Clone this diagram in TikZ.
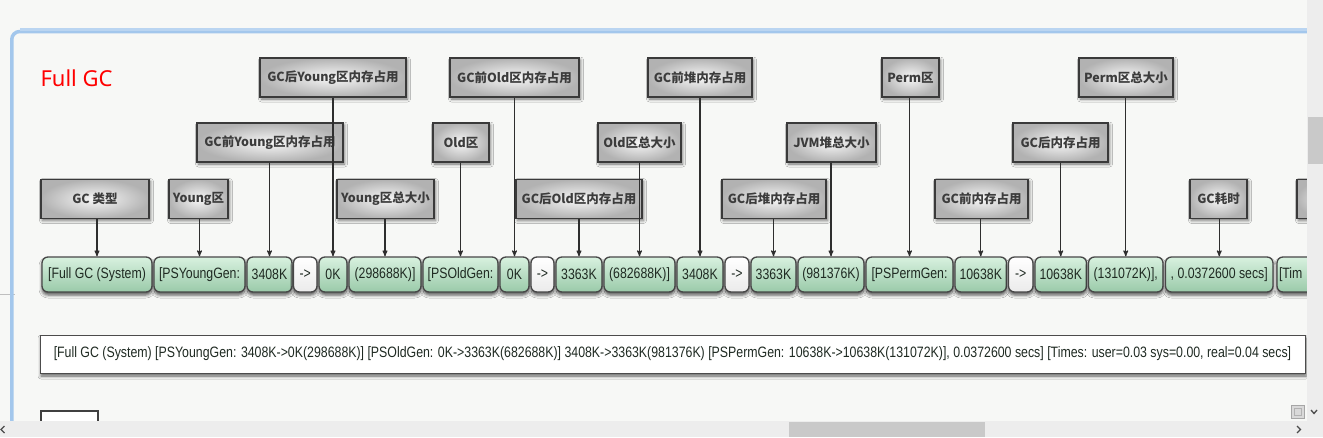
\documentclass[tikz,border=0pt]{standalone}
\usepackage{fontspec}
\setmainfont{Liberation Sans}
\newfontfamily\lblfont{Noto Sans CJK SC}
\newfontfamily\cellfont{Liberation Sans}[FakeStretch=0.82]
\newfontfamily\titlefont{Noto Sans}
\usepackage{tikz}
\usetikzlibrary{arrows,shadows,shadows.blur}

\definecolor{pagebg}{HTML}{F7F8F6}
\definecolor{frameblue}{HTML}{A3C7EC}
\definecolor{lblline}{HTML}{3A3A3A}
\definecolor{lbltext}{HTML}{3C3C3C}
\definecolor{cellhi}{HTML}{D8F1DF}
\definecolor{cellmid}{HTML}{B9DFC5}
\definecolor{celllo}{HTML}{9ACAA9}
\definecolor{cellline}{HTML}{474747}
\definecolor{celltext}{HTML}{1F2A22}
\definecolor{connline}{HTML}{2E2E2E}
\definecolor{barbg}{HTML}{EDEDED}
\definecolor{barthumb}{HTML}{C9C9C9}

\begin{document}
\begin{tikzpicture}[x=1pt,y=-1pt,
      lbl/.style={draw=lblline, line width=1.8pt, inner color=black!3, outer color=black!30,
        minimum height=39pt, inner sep=0pt, text=lbltext,
        font={\lblfont\bfseries\fontsize{12.5}{14}\selectfont},
        blur shadow={shadow xshift=1.5pt, shadow yshift=-2pt, shadow blur radius=3pt, shadow opacity=55}},
      cell/.style={draw=cellline, line width=1.3pt, rounded corners=6pt,
        top color=cellhi, middle color=cellmid, bottom color=celllo,
        minimum height=35pt, inner sep=0pt, text=celltext,
        font={\cellfont\fontsize{15}{17}\selectfont},
        blur shadow={shadow xshift=0pt, shadow yshift=-3pt, shadow blur radius=3pt, shadow opacity=65}},
      arrcell/.style={cell, top color=white, middle color=white, bottom color=black!8},
      conn/.style={->, >=stealth', line width=1.1pt, draw=connline},
      logbox/.style={draw=black!70, line width=0.9pt, fill=white, inner sep=0pt,
        font={\cellfont\fontsize{15.05}{17}\selectfont}, text=celltext,
        blur shadow={shadow xshift=1pt, shadow yshift=-3pt, shadow blur radius=3pt, shadow opacity=60}}]

    \useasboundingbox (0,0) rectangle (1323,437);
    \fill[pagebg] (0,0) rectangle (1323,437);

    %draw page frame
    \draw[black!25, line width=1pt] (0,294) -- (15,294);
    \draw[frameblue, line width=3.5pt, rounded corners=8pt] (11.75,430) |- (1312,31.5);
    \draw[frameblue!75, line width=3pt] (20,29.5) -- (1312,29.5);

    \begin{scope}
    \clip (0,0) rectangle (1307,421);

    \node[anchor=west, text=red, font={\titlefont\fontsize{22}{26}\selectfont}] (title) at (37,78) {Full GC};

    %draw label boxes, top row
    \node[lbl, minimum width=146pt] (youngAfter) at (333,77.5)   {GC后Young区内存占用};
    \node[lbl, minimum width=129pt] (oldBefore)  at (514.5,77.5) {GC前Old区内存占用};
    \node[lbl, minimum width=104pt] (heapBefore) at (700,77.5)   {GC前堆内存占用};
    \node[lbl, minimum width=57pt]  (permArea)   at (910.5,77.5) {Perm区};
    \node[lbl, minimum width=94pt]  (permTotal)  at (1126,77.5)  {Perm区总大小};

    %draw label boxes, middle row
    \node[lbl, minimum width=146pt] (youngBefore) at (270,142.5)    {GC前Young区内存占用};
    \node[lbl, minimum width=56pt]  (oldArea)     at (461,142.5)    {Old区};
    \node[lbl, minimum width=83pt]  (oldTotal)    at (639.5,142.5)  {Old区总大小};
    \node[lbl, minimum width=89pt]  (heapTotal)   at (831.5,142.5)  {JVM堆总大小};
    \node[lbl, minimum width=95pt]  (memAfter)    at (1060.5,142.5) {GC后内存占用};

    %draw label boxes, bottom row
    \node[lbl, minimum width=108pt] (gcType)     at (95,199)     {GC 类型};
    \node[lbl, minimum width=59pt]  (youngArea)  at (198.5,199)  {Young区};
    \node[lbl, minimum width=97pt]  (youngTotal) at (385.5,199)  {Young区总大小};
    \node[lbl, minimum width=126pt] (oldAfter)   at (579,199)    {GC后Old区内存占用};
    \node[lbl, minimum width=104pt] (heapAfter)  at (774,199)    {GC后堆内存占用};
    \node[lbl, minimum width=93pt]  (memBefore)  at (981.5,199)  {GC前内存占用};
    \node[lbl, minimum width=57pt]  (gcTime)     at (1218.5,199) {GC耗时};
    \node[lbl, minimum width=66pt]  (timesPart)  at (1330,199)   {};

    %draw log strip
    \foreach \nm/\xa/\xb/\sty/\txt in {
        cFull/42/152/cell/{[Full GC (System)},
        cYoungGen/154/245/cell/{[PSYoungGen:},
        cYoungBefore/247/292/cell/{3408K},
        cArrowA/293.5/317/arrcell/{->},
        cYoungAfter/319/347/cell/{0K},
        cYoungTotal/349/421/cell/{(298688K)]},
        cOldGen/423/498/cell/{[PSOldGen:},
        cOldBefore/500/529/cell/{0K},
        cArrowB/531/554/arrcell/{->},
        cOldAfter/556/602/cell/{3363K},
        cOldTotal/604/675/cell/{(682688K)]},
        cHeapBefore/677/723/cell/{3408K},
        cArrowC/725/749/arrcell/{->},
        cHeapAfter/751/796/cell/{3363K},
        cHeapTotal/798/864/cell/{(981376K)},
        cPermGen/866/953/cell/{[PSPermGen:},
        cPermBefore/955/1006.5/cell/{10638K},
        cArrowD/1008.5/1033/arrcell/{->},
        cPermAfter/1035/1086.5/cell/{10638K},
        cPermTotal/1088.5/1163/cell/{(131072K)],},
        cTime/1165.5/1273/cell/{, 0.0372600 secs]}}{
      \node[\sty, minimum width={(\xb-\xa)*1pt}] (\nm) at ({(\xa+\xb)/2},274.5) {\txt};
    }
    \node[cell, text width=100pt, align=left] (cTimes) at (1327,274.5) {\hspace*{2pt}[Tim};

    %draw connectors
    \foreach \l/\c in {gcType/cFull, youngArea/cYoungGen, youngBefore/cYoungBefore,
        youngAfter/cYoungAfter, youngTotal/cYoungTotal, oldArea/cOldGen,
        oldBefore/cOldBefore, oldAfter/cOldAfter, oldTotal/cOldTotal,
        heapBefore/cHeapBefore, heapAfter/cHeapAfter, heapTotal/cHeapTotal,
        permArea/cPermGen, memBefore/cPermBefore, memAfter/cPermAfter,
        permTotal/cPermTotal, gcTime/cTime}{
      \draw[conn] (\l.south -| \c.north) -- (\c.north);
    }

    %draw full log line
    \node[logbox, minimum width=1265pt, minimum height=38pt] (logLine) at (672.5,354)
      {[Full GC (System) [PSYoungGen: 3408K->0K(298688K)] [PSOldGen: 0K->3363K(682688K)] 3408K->3363K(981376K) [PSPermGen: 10638K->10638K(131072K)], 0.0372600 secs] [Times: user=0.03 sys=0.00, real=0.04 secs]};

    \draw[black!75, line width=1.2pt, fill=white] (41,440) -- (41,411) -- (98,411) -- (98,440);
    \end{scope}

    %draw scroll bars
    \fill[barbg] (1307,0) rectangle (1323,421);
    \fill[barthumb] (1308,117) rectangle (1323,164);
    \fill[barbg] (0,421) rectangle (1323,437);
    \fill[barthumb] (789,422) rectangle (985,437);
    \draw[black!35, fill=black!15] (1291,405) rectangle (1304,418);
    \draw[black!30] (1294,408) rectangle (1301,415);
    \draw[black!70, line width=1.3pt] (1311,410) -- (1314,413.5) -- (1317,410);
    \draw[black!70, line width=1.3pt] (1297,426) -- (1300.5,429.5) -- (1297,433);
    \draw[black!70, line width=1.3pt] (4.5,426) -- (1,429.5) -- (4.5,433);
  \end{tikzpicture}
\end{document}
